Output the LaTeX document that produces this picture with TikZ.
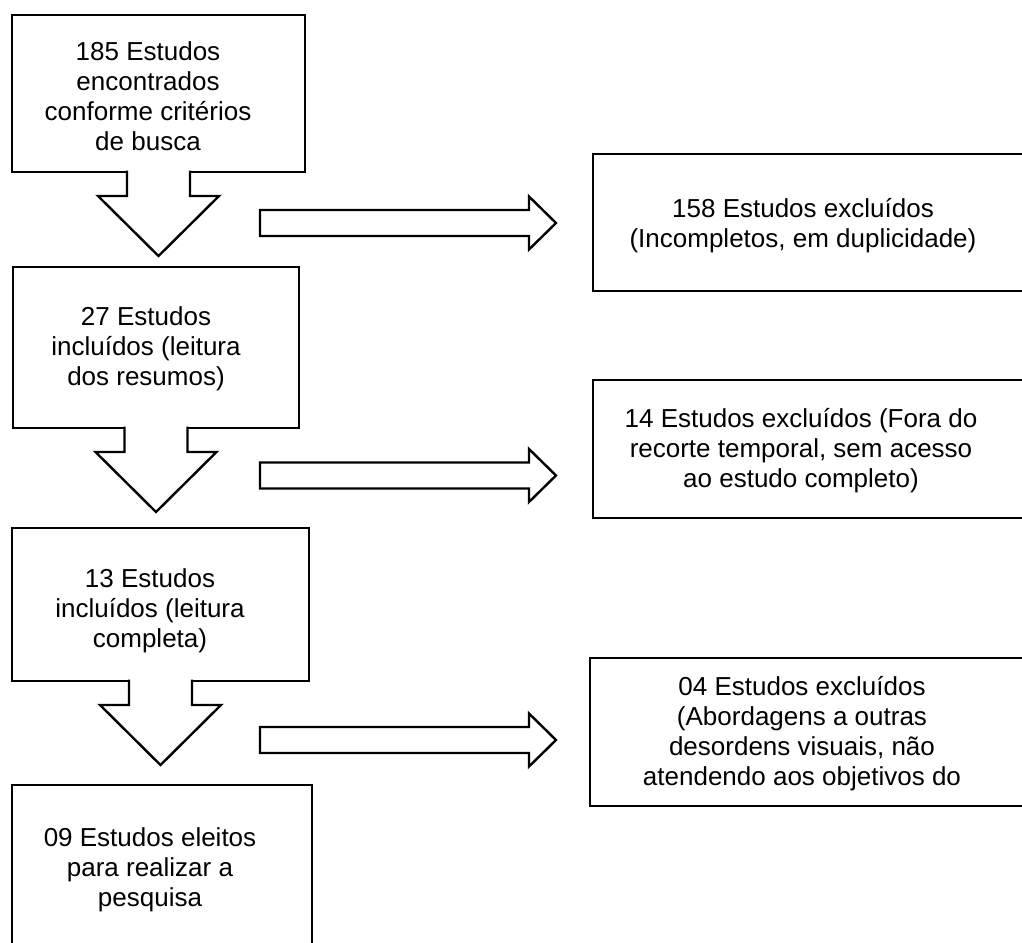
\documentclass[tikz,border=0pt]{standalone}
\usepackage{fontspec}
\setmainfont{Liberation Sans}
\usetikzlibrary{calc,fit}
\tikzset{
  box/.style={draw=black, line width=2pt, fill=white, inner sep=0pt, outer sep=0pt, rectangle},
  txt/.style={align=center, inner sep=0pt, font=\fontsize{19.5}{22.5}\selectfont},
  blk/.style={draw=black, line width=1.8pt, fill=white, line join=miter},
}
% down block arrow hanging from the south side of a box
\newcommand\dnarrow[1]{\draw[blk] ($(#1.south)+(-31.5,-1.5)$) -- ++(0,25.5) -- ++(-29,0) -- ++(60.5,60) -- ++(60.5,-60) -- ++(-29,0) -- ++(0,-25.5);}
% right block arrow ending at a tip coordinate
\newcommand\rtarrow[1]{\draw[blk] ($(#1)+(-296,-13)$) -- ++(269,0) -- ++(0,-13.5) -- (#1) -- ++(-27,26.5) -- ++(0,-13.5) -- ++(-269,0) -- cycle;}
\begin{document}
\begin{tikzpicture}[x=0.75pt,y=-0.75pt]
\useasboundingbox (0,0) rectangle (1022,943);
\clip (0,0) rectangle (1022,943);
% left boxes
\node[box, fit={(12,15) (305,172)}] (b1) {};
\node[box, fit={(13,267) (299,428)}] (b2) {};
\node[box, fit={(12,528) (309,681)}] (b3) {};
\node[box, fit={(12,785) (312,960)}] (b4) {};
% right boxes
\node[box, fit={(593,154) (1040,291)}] (r1) {};
\node[box, fit={(593,380) (1040,518)}] (r2) {};
\node[box, fit={(590,658) (1040,806)}] (r3) {};
% down arrows
\dnarrow{b1}
\dnarrow{b2}
\dnarrow{b3}
% right arrows
\coordinate (a1) at ($(r1.west)+(-37,0.5)$);
\coordinate (a2) at ($(r2.west |- b2.south)+(-37,47.5)$);
\coordinate (a3) at ($(r3.west |- b3.south)+(-34,59)$);
\rtarrow{a1}
\rtarrow{a2}
\rtarrow{a3}
% texts
\node[txt] (t1) at (148,96) {185 Estudos\\encontrados\\conforme critérios\\de busca};
\node[txt] (t2) at (146,349) {27 Estudos\\incluídos (leitura\\dos resumos)};
\node[txt] (t3) at (150,611) {13 Estudos\\incluídos (leitura\\completa)};
\node[txt] (t4) at (150,870) {09 Estudos eleitos\\para realizar a\\pesquisa};
\node[txt] (tr1) at (803,226) {158 Estudos excluídos\\(Incompletos, em duplicidade)};
\node[txt] (tr2) at (801,451) {14 Estudos excluídos (Fora do\\recorte temporal, sem acesso\\ao estudo completo)};
\node[txt] (tr3) at (802,734) {04 Estudos excluídos\\(Abordagens a outras\\desordens visuais, não\\atendendo aos objetivos do};
\end{tikzpicture}
\end{document}
